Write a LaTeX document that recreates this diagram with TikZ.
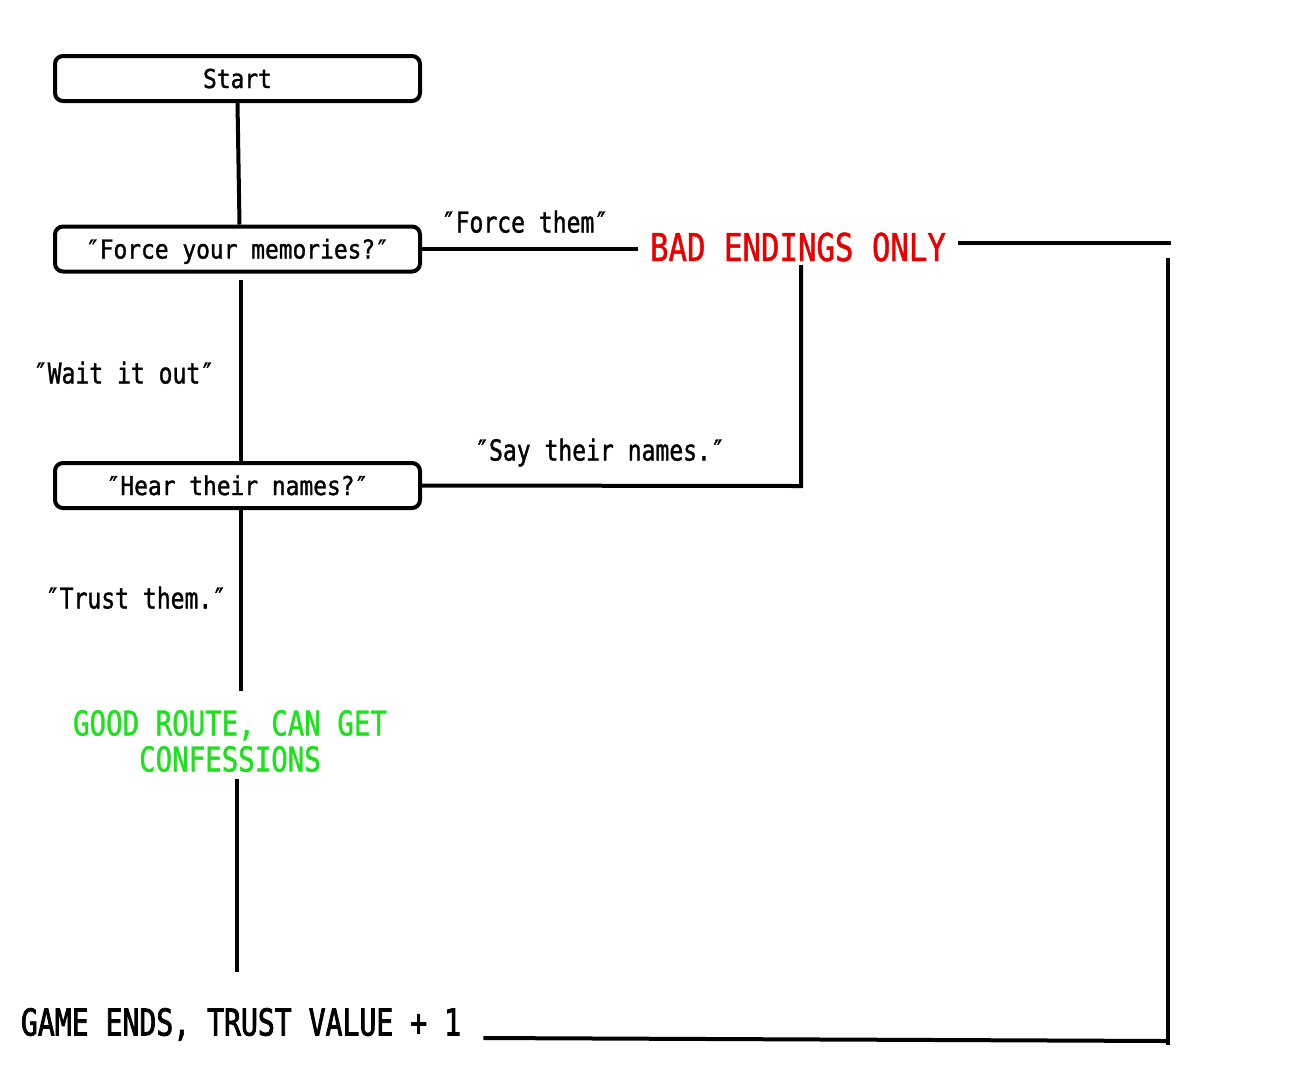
\documentclass[tikz,border=0pt]{standalone}
\usepackage{fontspec}
\newfontfamily\boxf[FakeStretch=0.88,FakeBold=1.2]{DejaVu Sans Mono}
\newfontfamily\labf[FakeStretch=0.80,FakeBold=1.2]{DejaVu Sans Mono}
\newfontfamily\bigf[FakeStretch=0.80,FakeBold=1.2]{DejaVu Sans Mono}
\newfontfamily\endf[FakeStretch=0.76,FakeBold=2]{DejaVu Sans Mono}
\definecolor{badred}{RGB}{232,0,0}
\definecolor{goodgreen}{RGB}{30,225,30}
\tikzset{
  qbox/.style={draw, line width=4pt, rounded corners=8pt, minimum width=365pt,
    minimum height=45pt, inner sep=0pt, font=\boxf\fontsize{26}{30}\selectfont,
    text height=19pt, text depth=0pt},
  lab/.style={inner sep=0pt, font=\labf\fontsize{28.8}{32}\selectfont, text height=21pt, text depth=0pt},
  conn/.style={line width=4pt}
}
\begin{document}
\begin{tikzpicture}[x=1pt,y=-1pt]
\useasboundingbox[fill=white] (0,0) rectangle (1300,1080);
\node[qbox] (start) at (237.5,78.5) {Start};
\node[qbox] (force) at (237.5,249) {″Force your memories?″};
\node[qbox] (hear) at (237.5,485.5) {″Hear their names?″};
\node[inner xsep=12pt, inner ysep=4pt, text=badred, font=\bigf\fontsize{38.4}{40}\selectfont,
  text height=28pt, text depth=0pt] (bad) at (798,247) {BAD ENDINGS ONLY};
\node[align=center, text=goodgreen, inner xsep=4pt, inner ysep=7pt,
  font=\bigf\fontsize{34.3}{36}\selectfont] (good) at (230,741) {GOOD ROUTE, CAN GET\\CONFESSIONS};
\node[inner xsep=22pt, inner ysep=6pt, font=\endf\fontsize{37}{40}\selectfont,
  text height=27pt, text depth=0pt] (game) at (241,1022) {GAME ENDS, TRUST VALUE + 1};
\node[lab] (lforce) at (525,222) {″Force them″};
\node[lab] (lwait) at (124,373) {″Wait it out″};
\node[lab] (lsay) at (600,450) {″Say their names.″};
\node[lab] (ltrust) at (136,598) {″Trust them.″};
\coordinate (tr) at (1171,243);
\coordinate (rt) at (1168,258);
\coordinate (rb) at (1168,1045);
\coordinate (br) at (1166,1041);
\coordinate (jn) at (801,486);
\draw[conn] (start.south) -- ([xshift=2pt]force.north);
\draw[conn] (force.east) -- (force.east -| bad.west);
\draw[conn] ([yshift=4pt]bad.east) -- (tr);
\draw[conn] (rt) -- (rb);
\draw[conn] ([yshift=-16pt]game.east) -- (br);
\draw[conn] ([yshift=-6pt,xshift=3.5pt]force.south) -- ([xshift=3.5pt]hear.north);
\draw[conn] (hear.east) -- (jn) -- (jn |- bad.south);
\draw[conn] ([xshift=3.5pt]hear.south) -- ([xshift=3.5pt,yshift=12pt]hear.south |- good.north);
\draw[conn] ([xshift=7pt]good.south) -- ([xshift=7pt,yshift=30pt]good.south |- game.north);
\end{tikzpicture}
\end{document}
